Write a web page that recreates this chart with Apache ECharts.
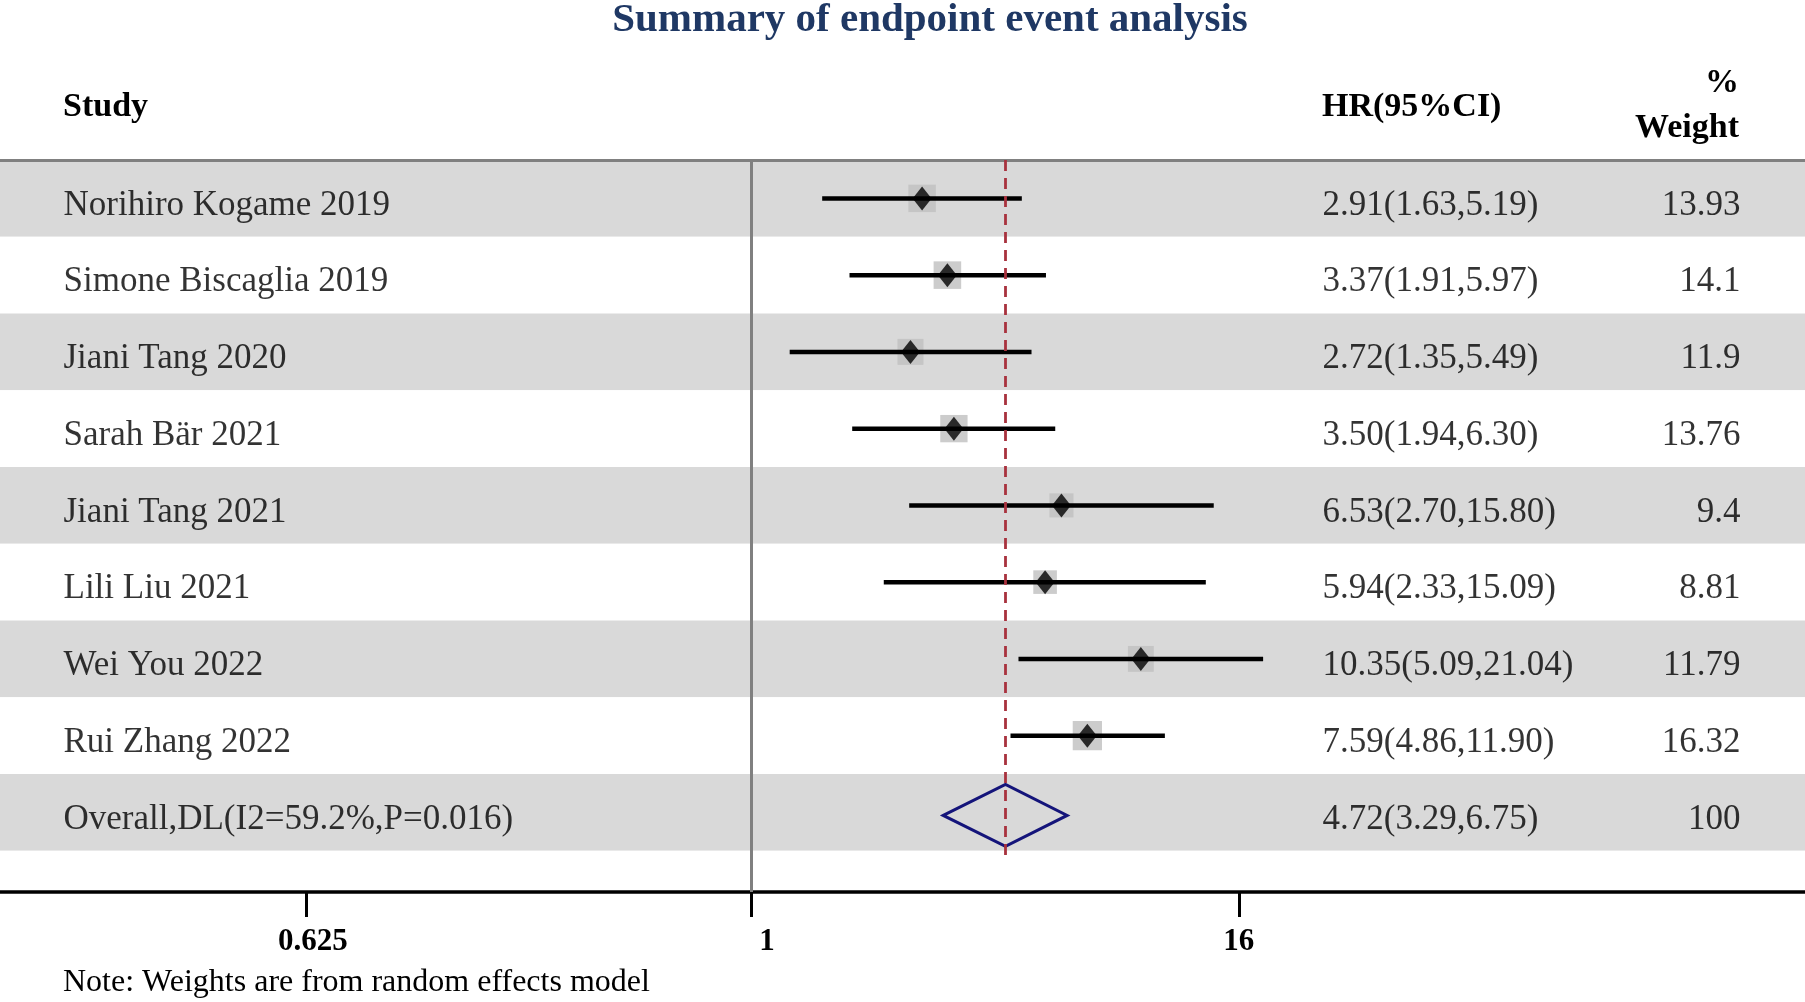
<!DOCTYPE html>
<html>
<head>
<meta charset="utf-8">
<script src="https://cdn.jsdelivr.net/npm/echarts@6/dist/echarts.min.js"></script>
<style>
html,body{margin:0;padding:0;background:#fff;}
#chart{width:1805px;height:1002px;}
</style>
</head>
<body>
<div id="chart"></div>
<script>
// ---------- data ----------
const studies = ['Norihiro Kogame 2019','Simone Biscaglia 2019','Jiani Tang 2020','Sarah Bär 2021','Jiani Tang 2021','Lili Liu 2021','Wei You 2022','Rui Zhang 2022'];
const hr      = [2.91, 3.37, 2.72, 3.50, 6.53, 5.94, 10.35, 7.59];
const ciLow   = [1.63, 1.91, 1.35, 1.94, 2.70, 2.33, 5.09, 4.86];
const ciHigh  = [5.19, 5.97, 5.49, 6.30, 15.80, 15.09, 21.04, 11.90];
const weights = [13.93, 14.1, 11.9, 13.76, 9.4, 8.81, 11.79, 16.32];
const overallLabel = 'Overall,DL(I2=59.2%,P=0.016)';
const overallHR = 4.72;
const overallLow = 3.29;
const overallHigh = 6.75;
const overallWeight = 100;
const tickLabels = ['0.625', '1', '16'];
const tickValues = [0.0815, 1.078, 18.28];   // where the printed ticks sit on the HR scale
const nullLineValue = 1.078;
const headerStudy = 'Study';
const headerHR = 'HR(95%CI)';
const headerPct = '%';
const headerWeight = 'Weight';
const titleText = 'Summary of endpoint event analysis';
const noteText = 'Note: Weights are from random effects model';

// ---------- layout ----------
const W = 1805, H = 1002;
const GRID_TOP = 160, AXIS_Y = 892;
const ROW_H = 76.75;
const Y_MAX = (AXIS_Y - GRID_TOP) / ROW_H;
const X_MIN = 0.01383, X_MAX = 487.8;
const COL_STUDY = 63, COL_HR = 1322, COL_WEIGHT = 1741;
const SERIF = '"Liberation Serif","Times New Roman",serif';
const ROW_FONT = 35;
const TICK_LABEL_SHIFT = [14, 32, 0];   // left padding of each printed tick label

const nRows = studies.length + 1;
const rowY = i => i + 0.5;

const allNames = studies.concat([overallLabel]);
const allHRText = hr.map((v, i) => v.toFixed(2) + '(' + ciLow[i].toFixed(2) + ',' + ciHigh[i].toFixed(2) + ')')
  .concat([overallHR.toFixed(2) + '(' + overallLow.toFixed(2) + ',' + overallHigh.toFixed(2) + ')']);
const allWeightText = weights.map(String).concat([String(overallWeight)]);

function textSeries(x, texts, side) {
  return {
    type: 'scatter', xAxisIndex: 2, yAxisIndex: 0, symbolSize: 1, silent: true,
    itemStyle: { color: 'rgba(0,0,0,0)' }, z: 5,
    data: texts.map((t, i) => ({ value: [x, rowY(i)], name: t })),
    label: {
      show: true, position: side, distance: 0, offset: [0, 7],
      formatter: p => p.name,
      fontFamily: SERIF, fontSize: ROW_FONT, color: '#000'
    }
  };
}

const tickRich = {};
TICK_LABEL_SHIFT.forEach((s, k) => {
  tickRich['t' + k] = { fontFamily: SERIF, fontWeight: 'bold', fontSize: 31, color: '#000', padding: [0, 0, 0, s] };
});

const chart = echarts.init(document.getElementById('chart'), null, { renderer: 'canvas' });
chart.setOption({
  backgroundColor: '#fff',
  animation: false,
  grid: { left: 0, right: 0, top: GRID_TOP, bottom: H - AXIS_Y, containLabel: false },
  xAxis: [
    {
      type: 'log', logBase: Math.E, min: X_MIN, max: X_MAX, position: 'bottom',
      axisLine: { show: true, onZero: false, lineStyle: { color: '#000', width: 3.5 } },
      axisTick: { show: true, customValues: tickValues, length: 25, lineStyle: { color: '#000', width: 3 } },
      axisLabel: {
        show: true, customValues: tickValues, margin: 34,
        fontFamily: SERIF, fontWeight: 'bold', fontSize: 31, color: '#000',
        formatter: function (v) {
          let best = 0;
          for (let k = 1; k < tickValues.length; k++) {
            if (Math.abs(Math.log(tickValues[k]) - Math.log(v)) < Math.abs(Math.log(tickValues[best]) - Math.log(v))) best = k;
          }
          return '{t' + best + '|' + tickLabels[best] + '}';
        },
        rich: tickRich
      },
      splitLine: { show: false }
    },
    {
      type: 'value', position: 'top', min: 0, max: 1,
      axisLine: { show: true, onZero: false, lineStyle: { color: '#808080', width: 3 } },
      axisTick: { show: false }, axisLabel: { show: false }, splitLine: { show: false }
    },
    { type: 'value', min: 0, max: W, show: false }
  ],
  yAxis: [{
    type: 'value', inverse: true, min: 0, max: Y_MAX, interval: 1,
    axisLine: { show: false }, axisTick: { show: false }, axisLabel: { show: false },
    splitLine: { show: false },
    splitArea: { show: true, areaStyle: { color: ['#D9D9D9', '#FFFFFF'] } }
  }],
  graphic: [
    { type: 'text', silent: true, style: { text: titleText, x: 930, y: 20, fill: '#1F3864', font: 'bold 41px ' + SERIF, align: 'center', verticalAlign: 'middle', textAlign: 'center', textVerticalAlign: 'middle' } },
    { type: 'text', silent: true, style: { text: headerStudy, x: COL_STUDY, y: 107, fill: '#000', font: 'bold 34px ' + SERIF, align: 'left', verticalAlign: 'middle', textAlign: 'left', textVerticalAlign: 'middle' } },
    { type: 'text', silent: true, style: { text: headerHR, x: COL_HR, y: 107, fill: '#000', font: 'bold 34px ' + SERIF, align: 'left', verticalAlign: 'middle', textAlign: 'left', textVerticalAlign: 'middle' } },
    { type: 'text', silent: true, style: { text: headerPct, x: 1739, y: 83, fill: '#000', font: 'bold 34px ' + SERIF, align: 'right', verticalAlign: 'middle', textAlign: 'right', textVerticalAlign: 'middle' } },
    { type: 'text', silent: true, style: { text: headerWeight, x: 1739, y: 128, fill: '#000', font: 'bold 34px ' + SERIF, align: 'right', verticalAlign: 'middle', textAlign: 'right', textVerticalAlign: 'middle' } },
    { type: 'text', silent: true, style: { text: noteText, x: COL_STUDY, y: 983, fill: '#000', font: '32px ' + SERIF, align: 'left', verticalAlign: 'middle', textAlign: 'left', textVerticalAlign: 'middle' } }
  ],
  series: [
    // weight squares
    {
      type: 'scatter', xAxisIndex: 0, yAxisIndex: 0, symbol: 'rect', silent: true, z: 2,
      symbolSize: d => 17 + 0.75 * d[2],
      itemStyle: { color: '#BFBFBF' },
      data: hr.map((v, i) => [v, rowY(i), weights[i]]),
      markLine: {
        silent: true, symbol: 'none', label: { show: false }, animation: false,
        lineStyle: { color: '#808080', width: 3, type: 'solid' },
        data: [[{ coord: [nullLineValue, 0] }, { coord: [nullLineValue, Y_MAX] }]]
      }
    },
    // CI lines
    {
      type: 'custom', xAxisIndex: 0, yAxisIndex: 0, silent: true, z: 3,
      encode: { x: [0, 1], y: 2 },
      data: ciLow.map((v, i) => [v, ciHigh[i], rowY(i)]),
      renderItem: function (params, api) {
        const p1 = api.coord([api.value(0), api.value(2)]);
        const p2 = api.coord([api.value(1), api.value(2)]);
        return { type: 'line', shape: { x1: p1[0], y1: p1[1], x2: p2[0], y2: p2[1] }, style: { stroke: '#000', lineWidth: 4.5, lineCap: 'butt' } };
      }
    },
    // point estimates
    {
      type: 'scatter', xAxisIndex: 0, yAxisIndex: 0, symbol: 'diamond', symbolSize: [19, 24], silent: true, z: 4,
      itemStyle: { color: '#000' },
      data: hr.map((v, i) => [v, rowY(i)])
    },
    // overall diamond
    {
      type: 'custom', xAxisIndex: 0, yAxisIndex: 0, silent: true, z: 4,
      encode: { x: [0, 1, 2], y: 3 },
      data: [[overallLow, overallHR, overallHigh, rowY(nRows - 1)]],
      renderItem: function (params, api) {
        const y = api.value(3);
        const l = api.coord([api.value(0), y]);
        const c = api.coord([api.value(1), y]);
        const r = api.coord([api.value(2), y]);
        const hh = 31, dy = 3;
        return {
          type: 'polygon',
          shape: { points: [[l[0], l[1] + dy], [c[0], c[1] - hh + dy], [r[0], r[1] + dy], [c[0], c[1] + hh + dy]] },
          style: { fill: 'none', stroke: '#14147A', lineWidth: 3, lineJoin: 'miter' }
        };
      },
      markLine: {
        silent: true, symbol: 'none', label: { show: false }, animation: false, z: 6,
        lineStyle: { color: '#A8323E', width: 2.8, type: [11, 7] },
        data: [[{ coord: [overallHR, 0] }, { coord: [overallHR, (855 - GRID_TOP) / ROW_H] }]]
      }
    },
    textSeries(COL_STUDY, allNames, 'right'),
    textSeries(COL_HR, allHRText, 'right'),
    textSeries(COL_WEIGHT, allWeightText, 'left')
  ]
});
</script>
</body>
</html>
